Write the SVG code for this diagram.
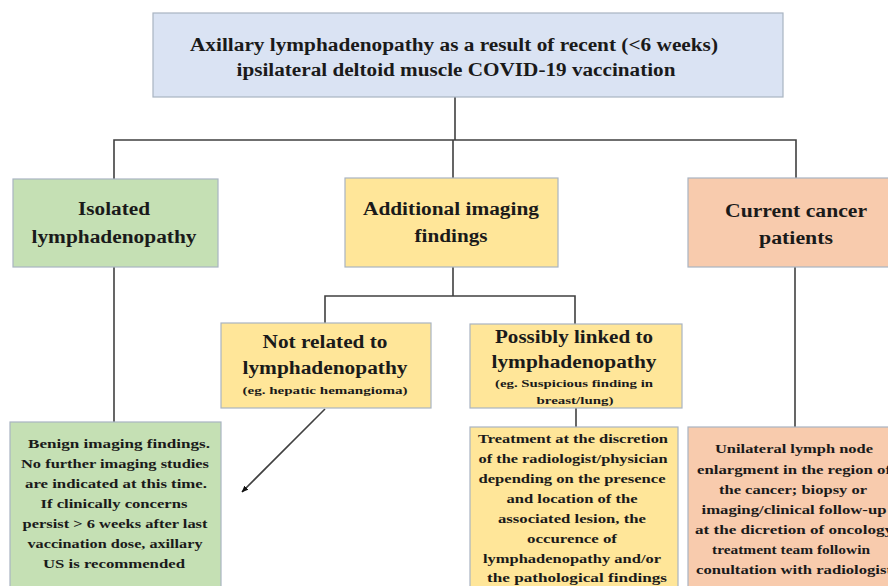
<svg xmlns="http://www.w3.org/2000/svg" width="888" height="586" viewBox="0 0 888 586">
<style>
.box{stroke:#a9b4c2;stroke-width:1.2}
.blue{fill:#dae3f3}
.green{fill:#c5e0b4}
.yellow{fill:#ffe699}
.orange{fill:#f8cbad}
text{font-family:"Liberation Serif","Tinos","Times New Roman","DejaVu Serif",serif;font-weight:bold;fill:#1a1a1a;text-anchor:middle}
.t18{font-size:18.5px}
.t17{font-size:18px}
.t10{font-size:10.5px}
.t13{font-size:13px}
.conn{stroke:#404040;stroke-width:1.6;fill:none}
</style>
<defs>
<marker id="ah" viewBox="0 0 10 10" refX="9" refY="5" markerWidth="7" markerHeight="7" orient="auto" markerUnits="userSpaceOnUse">
<path d="M0,1 L10,5 L0,9 z" fill="#111"/>
</marker>
</defs>
<rect width="888" height="586" fill="#ffffff"/>
<g id="connectors">
<path class="conn" d="M455,97 V140 M114,179 V140 H796 V178 M453,140 V178"/>
<path class="conn" d="M453,267 V296 M325,323 V296 H575 V324"/>
<path class="conn" d="M114,267 V422"/>
<path class="conn" d="M576,408 V427"/>
<path class="conn" d="M795,267 V427"/>
<path class="conn" d="M325,409 L242,492" marker-end="url(#ah)"/>
</g>
<g id="top">
<rect class="box blue" x="153" y="13" width="630" height="84"/>
<text class="t17" x="454" y="51" textLength="528" lengthAdjust="spacingAndGlyphs">Axillary lymphadenopathy as a result of recent (&lt;6 weeks)</text>
<text class="t17" x="456" y="76" textLength="439" lengthAdjust="spacingAndGlyphs">ipsilateral deltoid muscle COVID-19 vaccination</text>
</g>
<g id="isolated">
<rect class="box green" x="13" y="179" width="205" height="88"/>
<text class="t18" x="114" y="215" textLength="72" lengthAdjust="spacingAndGlyphs">Isolated</text>
<text class="t18" x="114" y="243" textLength="165" lengthAdjust="spacingAndGlyphs">lymphadenopathy</text>
</g>
<g id="additional">
<rect class="box yellow" x="345" y="178" width="213" height="89"/>
<text class="t18" x="451" y="215" textLength="176" lengthAdjust="spacingAndGlyphs">Additional imaging</text>
<text class="t18" x="451" y="242" textLength="73" lengthAdjust="spacingAndGlyphs">findings</text>
</g>
<g id="cancer">
<rect class="box orange" x="688" y="178" width="210" height="89"/>
<text class="t18" x="796" y="217" textLength="142" lengthAdjust="spacingAndGlyphs">Current cancer</text>
<text class="t18" x="796" y="244" textLength="74" lengthAdjust="spacingAndGlyphs">patients</text>
</g>
<g id="notrelated">
<rect class="box yellow" x="221" y="323" width="210" height="85"/>
<text class="t18" x="325" y="348" textLength="125" lengthAdjust="spacingAndGlyphs">Not related to</text>
<text class="t18" x="325" y="374" textLength="165" lengthAdjust="spacingAndGlyphs">lymphadenopathy</text>
<text class="t10" x="325" y="394" textLength="165" lengthAdjust="spacingAndGlyphs">(eg. hepatic hemangioma)</text>
</g>
<g id="possibly">
<rect class="box yellow" x="470" y="324" width="212" height="84"/>
<text class="t18" x="574" y="343" textLength="158" lengthAdjust="spacingAndGlyphs">Possibly linked to</text>
<text class="t18" x="574" y="368" textLength="165" lengthAdjust="spacingAndGlyphs">lymphadenopathy</text>
<text class="t10" x="574" y="387" textLength="158" lengthAdjust="spacingAndGlyphs">(eg. Suspicious finding in</text>
<text class="t10" x="575" y="404" textLength="77" lengthAdjust="spacingAndGlyphs">breast/lung)</text>
</g>
<g id="benign">
<rect class="box green" x="10" y="422" width="211" height="180"/>
<text class="t13" x="119" y="448" textLength="182" lengthAdjust="spacingAndGlyphs">Benign imaging findings.</text>
<text class="t13" x="115" y="468" textLength="188" lengthAdjust="spacingAndGlyphs">No further imaging studies</text>
<text class="t13" x="116" y="488" textLength="182" lengthAdjust="spacingAndGlyphs">are indicated at this time.</text>
<text class="t13" x="114" y="508" textLength="147" lengthAdjust="spacingAndGlyphs">If clinically concerns</text>
<text class="t13" x="115" y="528" textLength="185" lengthAdjust="spacingAndGlyphs">persist &gt; 6 weeks after last</text>
<text class="t13" x="115" y="548" textLength="175" lengthAdjust="spacingAndGlyphs">vaccination dose, axillary</text>
<text class="t13" x="114" y="568" textLength="142" lengthAdjust="spacingAndGlyphs">US is recommended</text>
</g>
<g id="treatment">
<rect class="box yellow" x="470" y="427" width="208" height="180"/>
<text class="t13" x="573" y="443" textLength="190" lengthAdjust="spacingAndGlyphs">Treatment at the discretion</text>
<text class="t13" x="573" y="463" textLength="189" lengthAdjust="spacingAndGlyphs">of the radiologist/physician</text>
<text class="t13" x="572" y="483" textLength="187" lengthAdjust="spacingAndGlyphs">depending on the presence</text>
<text class="t13" x="572" y="503" textLength="131" lengthAdjust="spacingAndGlyphs">and location of the</text>
<text class="t13" x="572" y="523" textLength="148" lengthAdjust="spacingAndGlyphs">associated lesion, the</text>
<text class="t13" x="572" y="543" textLength="90" lengthAdjust="spacingAndGlyphs">occurence of</text>
<text class="t13" x="572" y="563" textLength="178" lengthAdjust="spacingAndGlyphs">lymphadenopathy and/or</text>
<text class="t13" x="577" y="582" textLength="180" lengthAdjust="spacingAndGlyphs">the pathological findings</text>
</g>
<g id="unilateral">
<rect class="box orange" x="688" y="427" width="210" height="180"/>
<text class="t13" x="794" y="453" textLength="158" lengthAdjust="spacingAndGlyphs">Unilateral lymph node</text>
<text class="t13" x="794" y="474" textLength="194" lengthAdjust="spacingAndGlyphs">enlargment in the region of</text>
<text class="t13" x="793" y="494" textLength="148" lengthAdjust="spacingAndGlyphs">the cancer; biopsy or</text>
<text class="t13" x="794" y="514" textLength="185" lengthAdjust="spacingAndGlyphs">imaging/clinical follow-up</text>
<text class="t13" x="794" y="534" textLength="198" lengthAdjust="spacingAndGlyphs">at the dicretion of oncology</text>
<text class="t13" x="791" y="554" textLength="158" lengthAdjust="spacingAndGlyphs">treatment team followin</text>
<text class="t13" x="794" y="574" textLength="196" lengthAdjust="spacingAndGlyphs">conultation with radiologist</text>
</g>
</svg>
